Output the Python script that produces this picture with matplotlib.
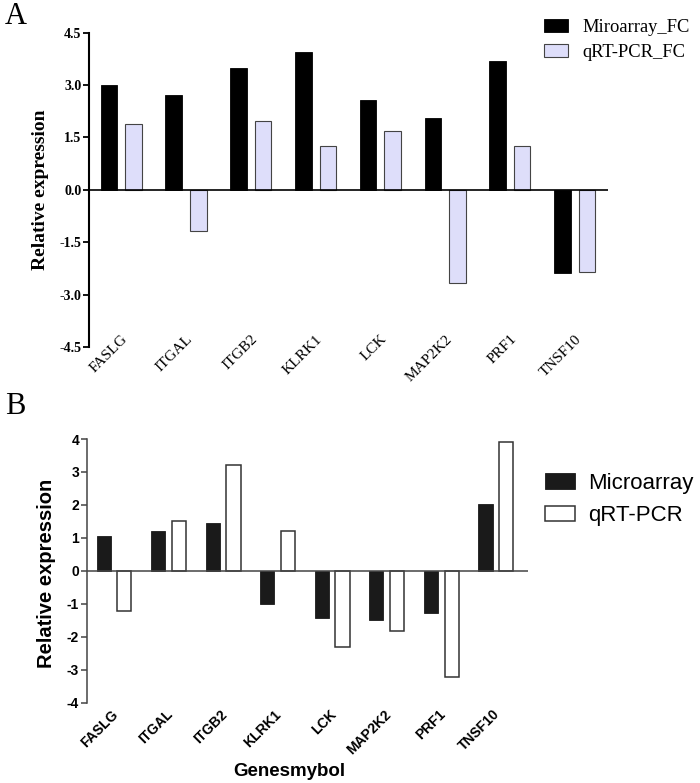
import numpy as np
import matplotlib
matplotlib.use('Agg')
import matplotlib.pyplot as plt

genes = ['FASLG', 'ITGAL', 'ITGB2', 'KLRK1', 'LCK', 'MAP2K2', 'PRF1', 'TNSF10']

# panel A
micro_fc = [2.99, 2.72, 3.50, 3.94, 2.58, 2.07, 3.69, -2.39]
qpcr_fc = [1.90, -1.19, 1.98, 1.27, 1.69, -2.67, 1.27, -2.34]
ticks_a = [-4.5, -3.0, -1.5, 0.0, 1.5, 3.0, 4.5]

# panel B
micro_b = [1.05, 1.21, 1.45, -1.01, -1.43, -1.50, -1.28, 2.02]
qpcr_b = [-1.22, 1.52, 3.21, 1.22, -2.31, -1.82, -3.22, 3.91]
ticks_b = [-4, -3, -2, -1, 0, 1, 2, 3, 4]

serif = 'Liberation Serif'
sans = 'Liberation Sans'

fig = plt.figure(figsize=(7, 7.83), dpi=100)
x = np.arange(len(genes))

# ---------------- A ----------------
ax1 = fig.add_axes([0.127, 0.5568, 0.742, 0.4014])
w = 0.255
ax1.bar(x - 0.19, micro_fc, w, color='black', edgecolor='black', linewidth=0.6,
        label='Miroarray_FC', zorder=2)
ax1.bar(x + 0.19, qpcr_fc, w, color='#dedefa', edgecolor='#444444', linewidth=0.8,
        label='qRT-PCR_FC', zorder=2)
ax1.axhline(0, color='black', linewidth=1.2, zorder=3)
ax1.set_xlim(-0.5, 7.52)
ax1.set_ylim(-4.5, 4.5)
ax1.set_yticks(ticks_a)
ax1.set_yticklabels(['%.1f' % t for t in ticks_a], fontfamily=serif,
                    fontweight='bold', fontsize=10)
ax1.set_xticks([])
for s in ['top', 'right', 'bottom']:
    ax1.spines[s].set_visible(False)
ax1.spines['left'].set_linewidth(1.5)
ax1.tick_params(axis='y', direction='out', length=4.5, width=1.3, pad=1)
for i, g in enumerate(genes):
    ax1.text(x[i], -4.09, g, rotation=45, ha='right', va='top',
             rotation_mode='anchor', fontfamily=serif, fontsize=11)
fig.text(41 / 700, 1 - 190 / 783, 'Relative expression', rotation=90,
         ha='center', va='center', fontfamily=serif, fontweight='bold',
         fontsize=14)
leg1 = ax1.legend(loc='upper left', bbox_to_anchor=(544 / 700, 1 - 19 / 783),
                  bbox_transform=fig.transFigure, frameon=False,
                  prop={'family': serif, 'size': 13.3}, handlelength=1.28,
                  handleheight=0.72, handletextpad=0.8, labelspacing=0.42,
                  borderpad=0, borderaxespad=0)
fig.text(5 / 700, 1 - 17 / 783, 'A', fontfamily=serif, fontsize=22,
         ha='left', va='center')

# ---------------- B ----------------
ax2 = fig.add_axes([0.1239, 0.1026, 0.6304, 0.3367])
w = 0.26
ax2.bar(x - 0.19, micro_b, w, color='#1a1a1a', edgecolor='#1a1a1a', linewidth=0.6,
        label='Microarray', zorder=2)
ax2.bar(x + 0.19, qpcr_b, w, color='white', edgecolor='#333333', linewidth=1.1,
        label='qRT-PCR', zorder=2)
ax2.axhline(0, color='#444444', linewidth=1.1, zorder=3)
ax2.set_xlim(-0.5, 7.59)
ax2.set_ylim(-4, 4)
ax2.set_yticks(ticks_b)
ax2.set_yticklabels([str(t) for t in ticks_b], fontfamily=sans,
                    fontweight='bold', fontsize=10)
ax2.set_xticks([])
for s in ['top', 'right', 'bottom']:
    ax2.spines[s].set_visible(False)
ax2.spines['left'].set_linewidth(1.1)
ax2.spines['left'].set_color('#444444')
ax2.tick_params(axis='y', direction='out', length=4.5, width=1.1,
                color='#444444', pad=1)
for i, g in enumerate(genes):
    ax2.text(x[i] - 0.06, -4.14, g, rotation=45, ha='right', va='top',
             rotation_mode='anchor', fontfamily=sans, fontweight='bold',
             fontsize=10)
fig.text(47 / 700, 1 - 573 / 783, 'Relative expression', rotation=90,
         ha='center', va='center', fontfamily=sans, fontweight='bold',
         fontsize=14.5)
fig.text(289 / 700, 1 - 771 / 783, 'Genesmybol', ha='center', va='center',
         fontfamily=sans, fontweight='bold', fontsize=13.5)
leg2 = ax2.legend(loc='upper left', bbox_to_anchor=(545 / 700, 1 - 473 / 783),
                  bbox_transform=fig.transFigure, frameon=False,
                  prop={'family': sans, 'size': 16}, handlelength=1.35,
                  handleheight=0.7, handletextpad=0.6, labelspacing=0.5,
                  borderpad=0, borderaxespad=0)
fig.text(5 / 700, 1 - 407 / 783, 'B', fontfamily=serif, fontsize=22,
         ha='left', va='center')

plt.savefig('out.png', dpi=100)
